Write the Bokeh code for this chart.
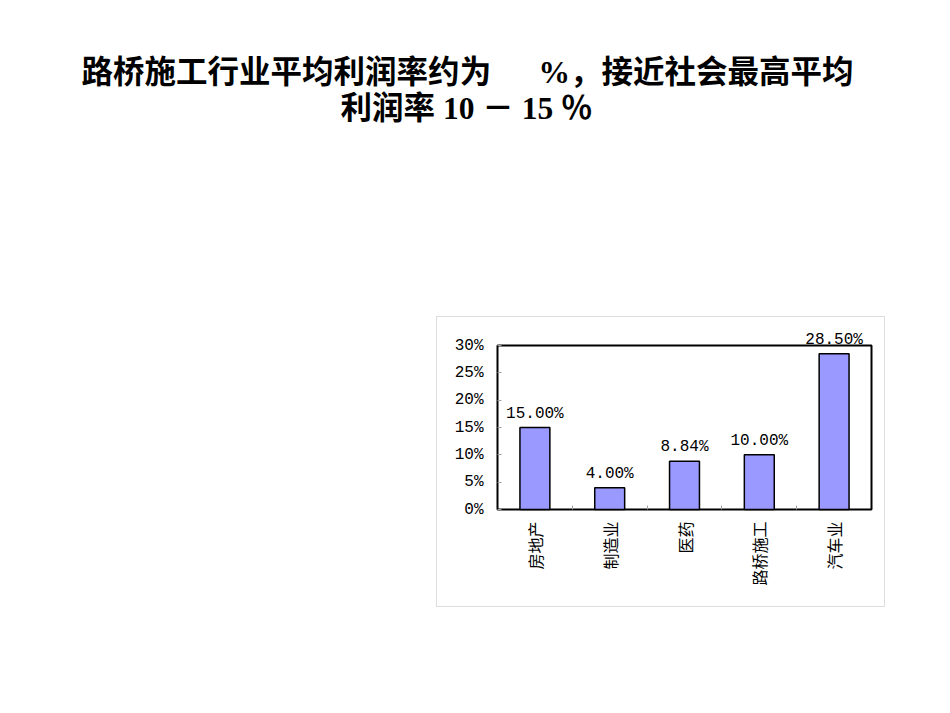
import math
from bokeh.plotting import figure
from bokeh.models import (ColumnDataSource, LabelSet, BoxAnnotation, LinearAxis,
                          FixedTicker, PrintfTickFormatter, Range1d)
from bokeh.core.properties import value
from bokeh.embed import file_html
from bokeh.resources import INLINE

# ---- data ----
categories = ["房地产", "制造业", "医药", "路桥施工", "汽车业"]
profit_rates = [15.00, 4.00, 8.84, 10.00, 28.50]
value_labels = ["15.00%", "4.00%", "8.84%", "10.00%", "28.50%"]
y_ticks = [0, 5, 10, 15, 20, 25, 30]
y_max = 30
title_line1 = "路桥施工行业平均利润率约为" + "\u00a0" * 6 + "%，接近社会最高平均"
title_line2 = "利润率 10 － 15 ％"

# ---- layout (canvas pixels) ----
W, H = 934, 697
PL, PR, PT, PB = 497, 871, 345, 509      # inner plot area
n = len(categories)
kx = (PR - PL) / n          # px per category
ky = (PB - PT) / y_max      # px per percent


def px2x(px):
    return (px - PL) / kx


def px2y(py):
    return (PB - py) / ky


xs = [i + 0.5 for i in range(n)]
src = ColumnDataSource(dict(x=xs, top=profit_rates, label=value_labels))

p = figure(width=W, height=H, output_backend="svg", toolbar_location=None,
           x_range=Range1d(px2x(0), px2x(W)), y_range=Range1d(px2y(H), px2y(0)),
           x_axis_type=None, y_axis_type=None,
           min_border=0, min_border_left=0, min_border_right=0,
           min_border_top=0, min_border_bottom=0)
p.xgrid.visible = False
p.ygrid.visible = False
p.background_fill_color = "white"
p.border_fill_color = "white"
p.outline_line_color = None

# outer chart box
p.add_layout(BoxAnnotation(left=px2x(436), right=px2x(884), top=px2y(316), bottom=px2y(606),
                           fill_color="white", fill_alpha=1, line_color="#909090",
                           line_width=1, level="underlay"))
# inner plot frame (spans the axis extents)
p.quad(left=0, right=n, bottom=0, top=y_max, fill_color=None,
       line_color="black", line_width=2)

p.vbar(x="x", top="top", bottom=0, width=0.4, source=src,
       fill_color="#9999FF", line_color="black", line_width=1.5)

mono = "'Liberation Mono', 'DejaVu Sans Mono', monospace"

# y axis
ya = LinearAxis(fixed_location=0, bounds=(0, y_max))
ya.ticker = FixedTicker(ticks=y_ticks, minor_ticks=[])
ya.formatter = PrintfTickFormatter(format="%d%%")
ya.major_tick_in = 4
ya.major_tick_out = 0
ya.major_tick_line_color = "#a0a0a0"
ya.minor_tick_line_color = None
ya.axis_line_color = None
ya.major_label_text_font = mono
ya.major_label_text_font_size = "16px"
ya.major_label_text_color = "black"
ya.major_label_standoff = 14
p.add_layout(ya, "left")

# x axis: labels at centres, ticks at category boundaries
xa = LinearAxis(fixed_location=0, bounds=(0, n))
xa.ticker = FixedTicker(ticks=xs, minor_ticks=[i for i in range(1, n)])
xa.major_label_overrides = {x: c for x, c in zip(xs, categories)}
xa.major_tick_in = 0
xa.major_tick_out = 0
xa.minor_tick_in = 4
xa.minor_tick_out = 0
xa.minor_tick_line_color = "#a0a0a0"
xa.axis_line_color = None
xa.major_label_orientation = math.pi / 2
xa.major_label_text_font = "'Noto Sans CJK SC'"
xa.major_label_text_font_size = "16px"
xa.major_label_text_color = "black"
xa.major_label_standoff = 12
p.add_layout(xa, "below")

labels = LabelSet(x="x", y="top", text="label", source=src,
                  text_align="center", text_baseline="alphabetic", y_offset=10,
                  text_font=value(mono), text_font_size=value("16px"),
                  text_color="black")
p.add_layout(labels)

title_font = "'Liberation Serif', 'Noto Sans CJK SC', serif"
title_src = ColumnDataSource(dict(x=[px2x(467), px2x(466)], y=[px2y(72), px2y(108)],
                                  t=[title_line1, title_line2]))
p.text(x="x", y="y", text="t", source=title_src, text_align="center",
       text_baseline="middle", text_font=value(title_font),
       text_font_size=value("31.5px"), text_font_style="bold", text_color="black")

open("out.html", "w").write(file_html(p, INLINE))
